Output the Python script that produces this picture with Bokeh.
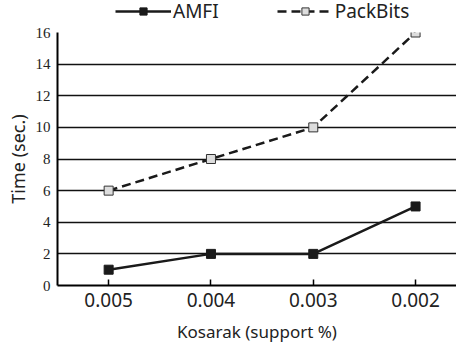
from bokeh.plotting import figure
from bokeh.models import Range1d, Legend, LegendItem, FixedTicker
from bokeh.layouts import column
from bokeh.embed import file_html
from bokeh.resources import INLINE

categories = ["0.005", "0.004", "0.003", "0.002"]
amfi = [1, 2, 2, 5]
packbits = [6, 8, 10, 16]
y_ticks = [0, 2, 4, 6, 8, 10, 12, 14, 16]
series_names = ["AMFI", "PackBits"]

xs = list(range(len(categories)))

p = figure(width=456, height=322, output_backend="svg", toolbar_location=None,
           x_range=Range1d(-0.5, 3.4), y_range=Range1d(0, 16),
           min_border_left=57, min_border_right=0, min_border_top=8, min_border_bottom=61)
p.outline_line_color = None
p.background_fill_color = "white"

p.xgrid.grid_line_color = None
p.ygrid.ticker = FixedTicker(ticks=y_ticks)
p.ygrid.grid_line_color = "#111111"
p.ygrid.grid_line_width = 1.5

p.xaxis.ticker = FixedTicker(ticks=xs)
p.xaxis.major_label_overrides = {i: c for i, c in enumerate(categories)}
p.xaxis.major_tick_in = 6
p.xaxis.major_tick_out = 0
p.xaxis.minor_tick_line_color = None
p.xaxis.axis_line_width = 2
p.xaxis.major_tick_line_width = 1.5
p.xaxis.major_label_text_font = "Noto Sans"
p.xaxis.major_label_text_font_size = "19px"
p.xaxis.major_label_text_color = "#222222"
p.xaxis.major_label_standoff = 7
p.xaxis.axis_label = "Kosarak (support %)"
p.xaxis.axis_label_text_font = "Noto Sans"
p.xaxis.axis_label_text_font_size = "17px"
p.xaxis.axis_label_text_font_style = "normal"
p.xaxis.axis_label_text_color = "#222222"
p.xaxis.axis_label_standoff = 10

p.yaxis.ticker = FixedTicker(ticks=y_ticks)
p.yaxis.major_tick_in = 0
p.yaxis.major_tick_out = 0
p.yaxis.minor_tick_line_color = None
p.yaxis.axis_line_width = 2
p.yaxis.major_label_text_font = "Liberation Sans Narrow"
p.yaxis.major_label_text_font_size = "15px"
p.yaxis.major_label_text_color = "#222222"
p.yaxis.major_label_standoff = 7
p.yaxis.axis_label = "Time (sec.)"
p.yaxis.axis_label_text_font = "Noto Sans"
p.yaxis.axis_label_text_font_size = "18px"
p.yaxis.axis_label_text_font_style = "normal"
p.yaxis.axis_label_text_color = "#222222"
p.yaxis.axis_label_standoff = 3

line_kw1 = dict(line_color="#1a1a1a", line_width=2.5)
mark_kw1 = dict(marker="square", size=9, fill_color="#1a1a1a", line_color="#1a1a1a")
line_kw2 = dict(line_color="#1a1a1a", line_width=2.5, line_dash="9 5")
mark_kw2 = dict(marker="square", size=9, fill_color="#dddddd", line_color="#333333")

p.line(xs, amfi, **line_kw1)
p.scatter(xs, amfi, **mark_kw1)
p.line(xs, packbits, **line_kw2)
p.scatter(xs, packbits, **mark_kw2)

# legend strip above the chart (its series lie outside its visible y range)
lf = figure(width=456, height=24, output_backend="svg", toolbar_location=None,
            x_range=Range1d(-0.5, 3.4), y_range=Range1d(-200, -100),
            x_axis_type=None, y_axis_type=None,
            min_border_left=0, min_border_right=0, min_border_top=0, min_border_bottom=0)
lf.outline_line_color = None
lf.xgrid.grid_line_color = None
lf.ygrid.grid_line_color = None
g1 = lf.line(xs, amfi, **line_kw1)
s1 = lf.scatter(xs, amfi, **mark_kw1)
g2 = lf.line(xs, packbits, **line_kw2)
s2 = lf.scatter(xs, packbits, **mark_kw2)

legend = Legend(items=[LegendItem(label=series_names[0], renderers=[g1, s1]),
                       LegendItem(label=series_names[1], renderers=[g2, s2])],
                orientation="horizontal", location=(58, 0),
                label_text_font="Noto Sans", label_text_font_size="19px",
                label_text_color="#222222", glyph_width=56, glyph_height=18,
                spacing=58, padding=0, margin=0, border_line_color=None,
                background_fill_alpha=0, label_standoff=2)
lf.add_layout(legend, "center")

layout = column(lf, p, spacing=0)
open("out.html", "w").write(file_html(layout, INLINE))
